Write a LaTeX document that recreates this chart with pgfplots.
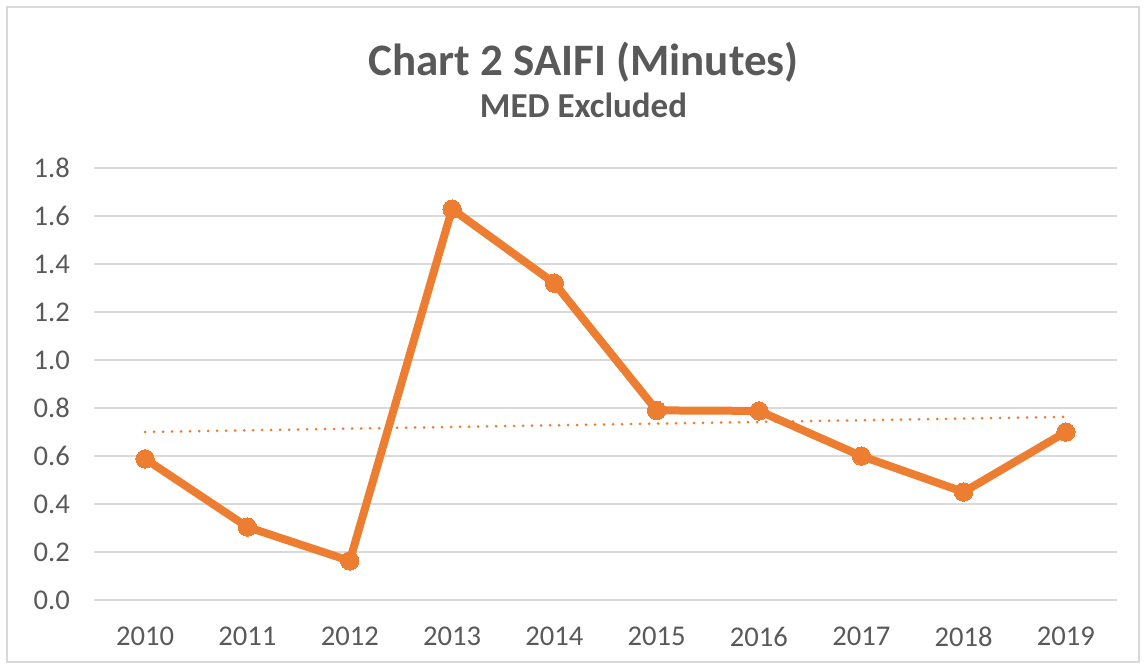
\documentclass[border=0pt]{standalone}
\usepackage{fontspec}
\setmainfont{Carlito}
\usepackage{pgfplots}
\pgfplotsset{compat=1.18}
\definecolor{txtgray}{HTML}{595959}
\definecolor{gridgray}{HTML}{D9D9D9}
\definecolor{xlorange}{HTML}{ED7D31}
\begin{document}
\begin{tikzpicture}
\begin{axis}[
  scale only axis,
  width=511.5pt, height=216pt,
  xmin=-0.5, xmax=9.5,
  ymin=0, ymax=1.8,
  xtick={0,...,9},
  xticklabels={2010,2011,2012,2013,2014,2015,2016,2017,2018,2019},
  ytick={0,0.2,...,1.8},
  yticklabel style={/pgf/number format/fixed, /pgf/number format/fixed zerofill,
    /pgf/number format/precision=1, xshift=-8.5pt},
  /pgf/number format/assume math mode=true,
  ticklabel style={font=\fontsize{14.3}{16}\selectfont, text=txtgray},
  xticklabel style={yshift=-10pt},
  axis line style={draw=none},
  major tick length=0pt,
  ymajorgrids=true,
  grid style={gridgray, line width=1pt},
  clip=false,
]
\addplot[xlorange, line width=1.5pt, line cap=round, dash pattern=on 0pt off 4.5pt]
  coordinates {(0,0.70) (9,0.763)};
\addplot[xlorange, line width=4pt, mark=*, mark size=4.6pt, line join=round,
  mark options={fill=xlorange, draw=xlorange, line width=0pt}]
  coordinates {
    (0,0.588) (1,0.304) (2,0.163) (3,1.629) (4,1.320)
    (5,0.790) (6,0.788) (7,0.600) (8,0.450) (9,0.700)
  };
\end{axis}
\path (current axis.south west) ++(-47pt,-34.5pt) coordinate (cbl);
\path (current axis.north east) ++(14.5pt,84pt) coordinate (ctr);
\useasboundingbox (cbl) rectangle (ctr);
\draw[gridgray, line width=1.2pt] ([shift={(3.5pt,3.5pt)}]cbl) rectangle ([shift={(-3.5pt,-3.5pt)}]ctr);
\node[text=txtgray, font=\fontsize{22.5}{26}\selectfont\bfseries] at ([xshift=-11pt,yshift=53pt]current axis.north) {Chart 2 SAIFI (Minutes)};
\node[text=txtgray, font=\fontsize{17.5}{20}\selectfont\bfseries] at ([xshift=-11pt,yshift=31.5pt]current axis.north) {MED Excluded};
\end{tikzpicture}
\end{document}
